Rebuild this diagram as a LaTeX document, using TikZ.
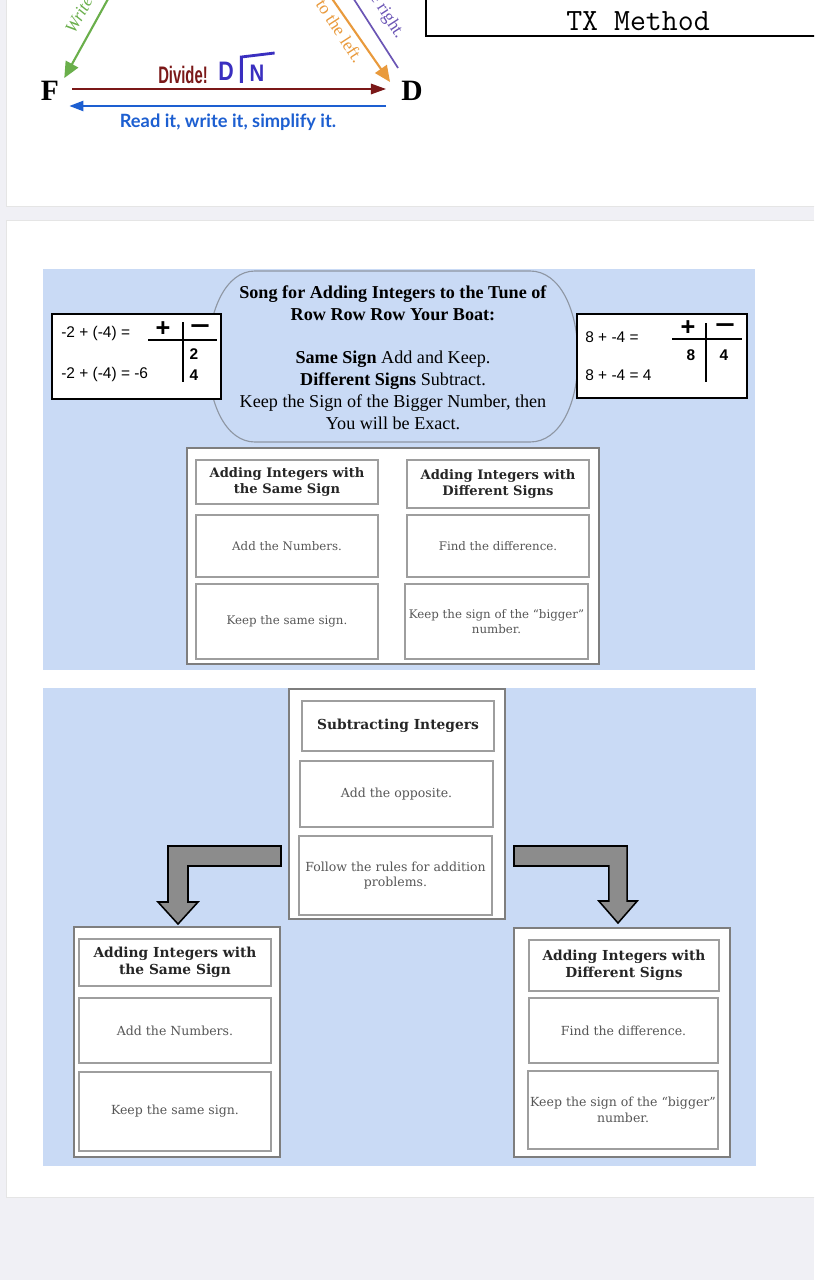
\documentclass[tikz,border=0pt]{standalone}
\usepackage{fontspec}
\setmainfont{Liberation Serif}
\setsansfont{Liberation Sans}
\newfontfamily\cardfont{DejaVu Serif}
\newfontfamily\readfont{Lato}
\usetikzlibrary{arrows.meta,positioning,fit,calc}
\definecolor{pagegray}{HTML}{F0F0F5}
\definecolor{songblue}{HTML}{C9DAF5}
\definecolor{songedge}{HTML}{8E96A3}
\definecolor{cardedge}{HTML}{7E7E7E}
\definecolor{boxedge}{HTML}{9E9E9E}
\definecolor{bodygray}{HTML}{575757}
\definecolor{arrowgray}{HTML}{8C8C8C}
\definecolor{writegreen}{HTML}{6AAF4B}
\definecolor{leftorange}{HTML}{E99A3C}
\definecolor{rightpurple}{HTML}{6B55B5}
\definecolor{divred}{HTML}{7B1818}
\definecolor{readblue}{HTML}{1D5FD1}
\definecolor{dnviolet}{HTML}{3A2FC0}

\begin{document}
\begin{tikzpicture}[
  x=0.025cm, y=-0.025cm,
  boxsize/.style 2 args={minimum width=#1*0.025cm, minimum height=#2*0.025cm},
  sumbox/.style={draw=black, line width=1.3pt, fill=white, inner sep=0pt},
  sumtxt/.style={font=\sffamily\fontsize{11}{13}\selectfont, inner sep=0pt},
  sign/.style={font=\sffamily\bfseries\fontsize{18}{18}\selectfont, inner sep=0pt},
  digit/.style={font=\sffamily\bfseries\fontsize{11}{13}\selectfont, inner sep=0pt},
  tally/.style={line width=0.9pt},
  songtxt/.style={align=center, inner sep=0pt, font=\fontsize{12.9}{15.6}\selectfont},
  card/.style={draw=cardedge, line width=1.4pt, fill=white, inner sep=0pt},
  hdrbox/.style={draw=boxedge, line width=0.9pt, fill=white, inner sep=0pt, align=center,
    text=black!85, font=\cardfont\bfseries\fontsize{9.3}{11.8}\selectfont},
  notebox/.style={hdrbox, text=bodygray, font=\cardfont\fontsize{8.4}{10.8}\selectfont},
  hdrboxL/.style={hdrbox, font=\cardfont\bfseries\fontsize{9.8}{12.4}\selectfont},
  noteboxL/.style={notebox, font=\cardfont\fontsize{8.9}{11.2}\selectfont},
  elbow/.style={fill=arrowgray, draw=black, line width=1.1pt, line join=miter},
  letter/.style={font=\bfseries\fontsize{21}{21}\selectfont, inner sep=0pt}
]
\useasboundingbox (0,0) rectangle (814,1280);
\clip (0,0) rectangle (814,1280);
% page and cards
\fill[pagegray] (0,0) rectangle (814,1280);
\filldraw[fill=white, draw=black!10] (6,-20) rectangle (830,206);
\filldraw[fill=white, draw=black!10] (6,220) rectangle (830,1197);
\fill[songblue] (43,269) rectangle (755,670);
\fill[songblue] (43,688) rectangle (756,1166);

% FDP triangle, bottom part
\node[letter] (F) at (50,91) {F};
\node[letter] (D) at (412,91) {D};
\coordinate (wtop) at (113,-10);
\coordinate (ltop) at (326,-10);
\coordinate (rtop) at (348,-10);
\coordinate (rbot) at ($(D.north west)+(-3,-13)$);
\draw[writegreen, line width=1.5pt, -{Triangle[length=0.4cm,width=0.35cm]}] (wtop) -- ($(F.north east)+(5,-3)$);
\draw[leftorange, line width=1.5pt, -{Triangle[length=0.4cm,width=0.35cm]}] (ltop) -- ($(D.north west)+(-11,1)$);
\draw[rightpurple, line width=1.2pt] (rtop) -- (rbot);
\draw[divred, line width=1.4pt, -{Triangle[length=0.38cm,width=0.26cm]}] ($(F.east)+(13,-2)$) -- ($(D.west)+(-15,-2)$);
\draw[readblue, line width=1.5pt, -{Triangle[length=0.35cm,width=0.25cm]}] ($(D.west)+(-15,15)$) -- ($(F.east)+(10,15)$);
\node[rotate=61, text=writegreen, font=\itshape\fontsize{12.5}{12.5}\selectfont] (wlab) at (79,15) {Write};
\node[rotate=-57, text=leftorange, font=\fontsize{12.5}{12.5}\selectfont] (llab) at (340,31) {to the left.};
\node[rotate=-57, text=rightpurple, font=\fontsize{12.5}{12.5}\selectfont] (rlab) at (387,16) {e right.};
\node[text=divred, font=\sffamily\bfseries\fontsize{17}{17}\selectfont] (div) at (183,75) {\scalebox{0.62}[1]{Divide!}};
\node[text=dnviolet, font=\sffamily\bfseries\fontsize{19}{19}\selectfont, inner sep=0pt] (dnD) at (226,71) {\scalebox{0.8}[1]{D}};
\node[text=dnviolet, font=\sffamily\bfseries\fontsize{17}{17}\selectfont, inner sep=0pt] (dnN) at (257,73) {\scalebox{0.85}[1]{N}};
\draw[dnviolet, line width=2pt] ($(dnN.west)+(-8,10)$) -- ($(dnN.west)+(-8,-16)$) -- ($(dnN.east)+(10,-20)$);
\node[text=readblue, font=\readfont\bfseries\fontsize{13}{13}\selectfont] (read) at (228,122) {Read it, write it, simplify it.};
\node[draw, line width=1.6pt, inner sep=0pt, fit={(426,-60) (880,36)}] (txbox) {};
\node[font=\ttfamily\fontsize{22}{22}\selectfont] (tx) at (638,21) {TX Method};

% song and worked sums
\filldraw[fill=songblue, draw=songedge, line width=0.8pt]
  (255,271) -- (530,271) .. controls (560,271) and (578,310) .. (578,357)
  .. controls (578,404) and (560,442) .. (530,442) -- (255,442)
  .. controls (226,442) and (208,404) .. (208,357) .. controls (208,310) and (226,271) .. (255,271) -- cycle;
\node[songtxt] (song) at (393,357.5)
  {\textbf{Song for Adding Integers to the Tune of}\\\textbf{Row Row Row Your Boat:}\\[15pt]
   \textbf{Same Sign} Add and Keep.\\\textbf{Different Signs} Subtract.\\
   Keep the Sign of the Bigger Number, then\\You will be Exact.};
\node[sumbox, boxsize={169}{85}] (negsum) at (136.5,356.5) {};
\node[sumtxt, anchor=west] (nq) at (61,333) {-2 + (-4) =};
\node[sumtxt, anchor=west] (na) at (61,374) {-2 + (-4) = -6};
\node[sign] (np) at (163,329) {+};
\node[sign] (nm) at (200,330) {\scalebox{1.35}[1]{−}};
\draw[tally] (148,340) -- (217,340);
\draw[tally] (183,322) -- (183,382);
\node[digit] (n2) at (194,354) {2};
\node[digit] (n4) at (194,375) {4};
\node[sumbox, boxsize={170}{84}] (mixsum) at (662,356) {};
\node[sumtxt, anchor=west] (mq) at (585,337) {8 + -4 =};
\node[sumtxt, anchor=west] (ma) at (585,375) {8 + -4 = 4};
\node[sign] (mp) at (688,328) {+};
\node[sign] (mm) at (725,329) {\scalebox{1.35}[1]{−}};
\draw[tally] (672,339) -- (742,339);
\draw[tally] (706,323) -- (706,382);
\node[digit] (m8) at (691,355) {8};
\node[digit] (m4) at (724,355) {4};

% addition rules grid
\node[card, boxsize={412}{216}] (grid) at (393,556) {};
\node[hdrbox, boxsize={182}{44}] (sameH) at (287,482) {Adding Integers with\\the Same Sign};
\node[hdrbox, boxsize={182}{48}] (diffH) at (498,484) {Adding Integers with\\Different Signs};
\node[notebox, boxsize={182}{62}] (sameA) at (287,546) {Add the Numbers.};
\node[notebox, boxsize={182}{62}] (diffA) at (498,546) {Find the difference.};
\node[notebox, boxsize={182}{75}] (sameK) at (287,621.5) {Keep the same sign.};
\node[notebox, boxsize={183}{75}] (diffK) at (496.5,621.5) {Keep the sign of the “bigger”\\number.};

% subtraction card
\node[card, boxsize={216}{230}] (sub) at (397,804) {};
\node[hdrboxL, boxsize={192}{50}] (subH) at (398,726) {Subtracting Integers};
\node[noteboxL, boxsize={193}{66}] (subA) at (396.5,794) {Add the opposite.};
\node[noteboxL, boxsize={193}{79}] (subF) at (395.5,875.5) {Follow the rules for addition\\problems.};
% second row
\node[card, boxsize={206}{230}] (sameL) at (177,1042) {};
\node[hdrboxL, boxsize={192}{47}] (sameLH) at (175,962.5) {Adding Integers with\\the Same Sign};
\node[noteboxL, boxsize={192}{65}] (sameLA) at (175,1030.5) {Add the Numbers.};
\node[noteboxL, boxsize={192}{79}] (sameLK) at (175,1111.5) {Keep the same sign.};
\node[card, boxsize={216}{229}] (diffR) at (622,1042.5) {};
\node[hdrboxL, boxsize={190}{51}] (diffRH) at (624,965.5) {Adding Integers with\\Different Signs};
\node[noteboxL, boxsize={189}{65}] (diffRA) at (623.5,1030.5) {Find the difference.};
\node[noteboxL, boxsize={190}{78}] (diffRK) at (623,1110) {Keep the sign of the “bigger”\\number.};
% block arrows
\coordinate (lstart) at ($(sub.west)+(-7,52)$);
\coordinate (ltip) at ($(sameL.north)+(1,-2)$);
\draw[elbow] let \p1=(lstart), \p2=(ltip) in
  (\x1,\y1+0.25cm) -- (\x2-0.25cm,\y1+0.25cm) -- (\x2-0.25cm,\y2+0.55cm) -- (\x2-0.5cm,\y2+0.55cm)
  -- (\x2,\y2) -- (\x2+0.5cm,\y2+0.55cm) -- (\x2+0.25cm,\y2+0.55cm) -- (\x2+0.25cm,\y1-0.25cm)
  -- (\x1,\y1-0.25cm) -- cycle;
\coordinate (rstart) at ($(sub.east)+(8,52)$);
\coordinate (rtip) at ($(diffR.north)+(-4,-4)$);
\draw[elbow] let \p1=(rstart), \p2=(rtip) in
  (\x1,\y1+0.25cm) -- (\x2+0.23cm,\y1+0.25cm) -- (\x2+0.23cm,\y2+0.55cm) -- (\x2+0.48cm,\y2+0.55cm)
  -- (\x2,\y2) -- (\x2-0.48cm,\y2+0.55cm) -- (\x2-0.23cm,\y2+0.55cm) -- (\x2-0.23cm,\y1-0.25cm)
  -- (\x1,\y1-0.25cm) -- cycle;
\end{tikzpicture}
\end{document}
